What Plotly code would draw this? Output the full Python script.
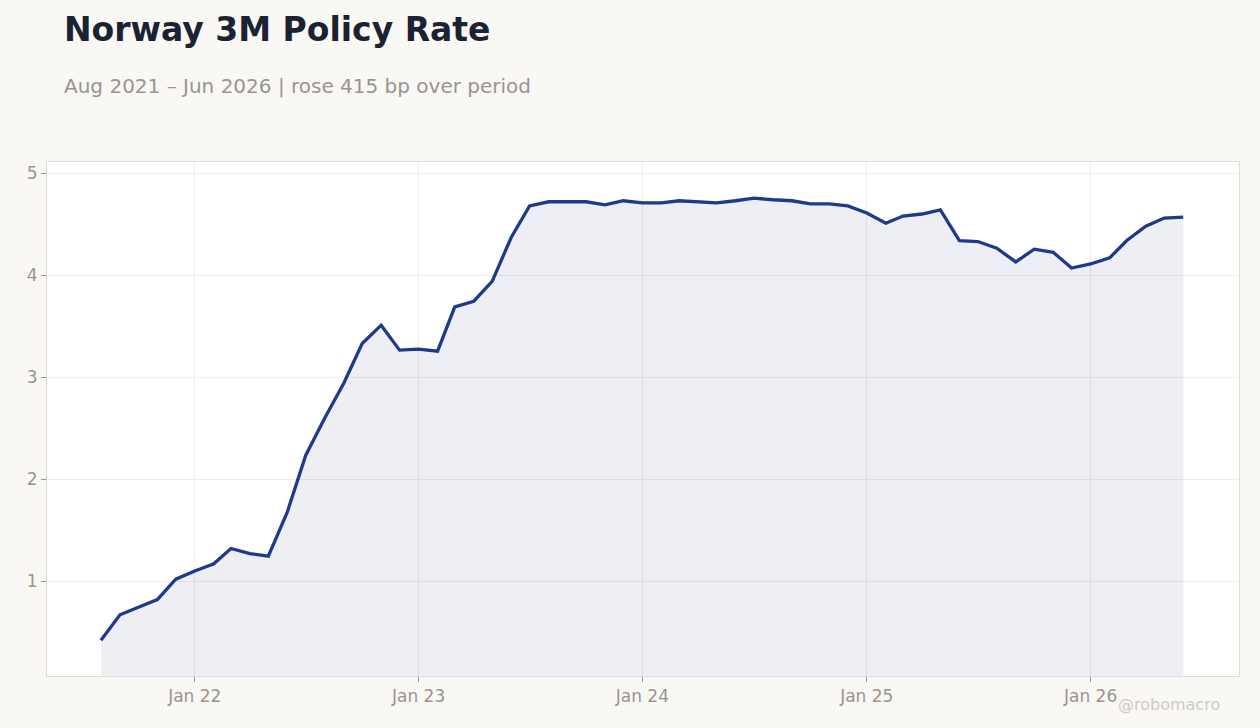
import plotly.graph_objects as go
import pandas as pd

# monthly 3M policy rate, Aug 2021 - Jun 2026
dates = pd.date_range("2021-08-01", "2026-06-01", freq="MS")
rates = [
    0.42, 0.67, 0.745, 0.82, 1.02,            # Aug-Dec 2021
    1.10, 1.17, 1.32, 1.27, 1.245, 1.68,      # 2022
    2.235, 2.60, 2.94, 3.33, 3.51, 3.265,
    3.275, 3.255, 3.69, 3.745, 3.94, 4.37,    # 2023
    4.68, 4.72, 4.72, 4.72, 4.69, 4.73,
    4.71, 4.71, 4.73, 4.72, 4.71, 4.73,       # 2024
    4.755, 4.74, 4.73, 4.70, 4.70, 4.68,
    4.61, 4.51, 4.58, 4.60, 4.64, 4.34,       # 2025
    4.33, 4.265, 4.13, 4.255, 4.225, 4.07,
    4.11, 4.17, 4.34, 4.48, 4.56, 4.57,       # 2026
]

title_text = "Norway 3M Policy Rate"
subtitle_text = "Aug 2021 – Jun 2026 | rose 415 bp over period"

line_col = "#1e3a8a"
grey = "#9a948f"

fig = go.Figure()
fig.add_trace(go.Scatter(
    x=dates, y=rates, mode="lines",
    line=dict(color=line_col, width=3.3),
    fill="tozeroy", fillcolor="rgba(35,50,130,0.08)",
    hoverinfo="x+y",
))

fig.update_layout(
    width=1260, height=728,
    paper_bgcolor="#f9f8f5", plot_bgcolor="#ffffff",
    margin=dict(l=47, r=21, t=162, b=52),
    font=dict(family="DejaVu Sans", color=grey, size=17),
    showlegend=False,
    xaxis=dict(
        range=["2021-05-05", "2026-08-31"],
        tick0="2022-01-01", dtick="M12", tickformat="%b %y",
        showgrid=True, gridcolor="#eeedeb", gridwidth=1,
        ticks="outside", ticklen=5, tickcolor=grey,
        showline=True, linecolor="#e0dbd3", linewidth=1, mirror=True,
        zeroline=False, tickfont=dict(size=17, color=grey),
    ),
    yaxis=dict(
        range=[0.07, 5.11], dtick=1, tick0=0,
        showgrid=True, gridcolor="#eeedeb", gridwidth=1,
        ticks="outside", ticklen=5, tickcolor=grey,
        showline=True, linecolor="#e0dbd3", linewidth=1, mirror=True,
        zeroline=False, tickfont=dict(size=17, color=grey),
    ),
    annotations=[
        dict(text="<b>" + title_text + "</b>", xref="paper", yref="paper",
             x=0.0125, y=1.257, xanchor="left", yanchor="middle",
             showarrow=False, font=dict(size=33, color="#1b2333")),
        dict(text=subtitle_text, xref="paper", yref="paper",
             x=0.0125, y=1.148, xanchor="left", yanchor="middle",
             showarrow=False, font=dict(size=20, color=grey)),
        dict(text="@robomacro", xref="paper", yref="paper",
             x=0.986, y=-0.056, xanchor="right", yanchor="middle",
             showarrow=False, font=dict(size=16, color="#cfcbc6")),
    ],
)

# page fills the window edge to edge, no toolbar
fig.write_html("out.html", config={"displayModeBar": False},
               post_script="document.body.style.margin='0';")
